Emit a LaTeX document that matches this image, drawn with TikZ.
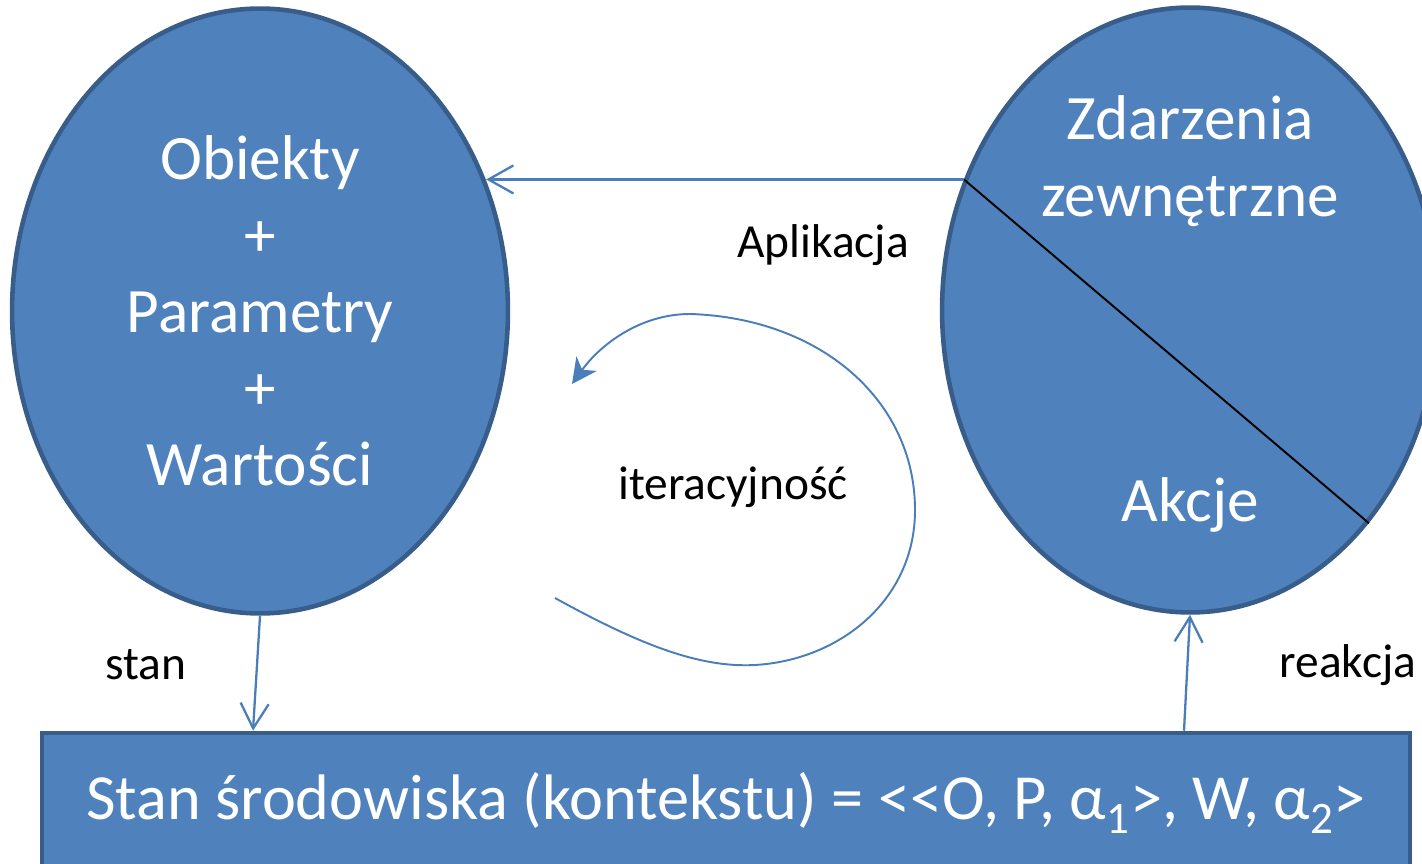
\documentclass[tikz,border=0pt]{standalone}
\usepackage{fontspec}
\setmainfont{Carlito}
\usetikzlibrary{shapes.geometric,arrows.meta}
\definecolor{fillBlue}{HTML}{4F81BD}
\definecolor{edgeBlue}{HTML}{385D8A}
\definecolor{lineBlue}{HTML}{4A7EBB}

\begin{document}
\begin{tikzpicture}
[x=0.02cm,y=-0.02cm,
  ellipseDecorate/.style={shape=ellipse,draw=edgeBlue,fill=fillBlue,line width=2.6pt,%
    minimum width=9.92cm,minimum height=12.1cm,inner sep=0pt,text=white,align=center,%
    font={\fontsize{36}{43.6}\selectfont}},
  boxDecorate/.style={shape=rectangle,draw=edgeBlue,fill=fillBlue,line width=2.6pt,%
    minimum width=27.36cm,minimum height=2.8cm,inner sep=0pt,text=white,%
    font={\fontsize{36.6}{43.6}\selectfont}},
  textDecorate/.style={text=white,align=center,font={\fontsize{36}{43.6}\selectfont}},
  labelDecorate/.style={text=black,font={\fontsize{27}{32}\selectfont}},
  arrowDecorate/.style={draw=lineBlue,line width=1.3pt,-{Straight Barb[length=0.5cm,width=0.56cm]}},
  loopDecorate/.style={draw=lineBlue,line width=1.1pt,-{Stealth[length=0.5cm,width=0.5cm,inset=0.15cm]}}]
\useasboundingbox (0,0) rectangle (1422,864);
\clip (0,0) rectangle (1422,864);
%% main shapes
\node (obiekty) at (260,311) [ellipseDecorate] {Obiekty\\+\\Parametry\\+\\Wartości};
\node (zdarzenia) at (1190,310) [ellipseDecorate] {};
\node (srodowisko) at (726,803) [boxDecorate]
  {Stan środowiska (kontekstu) = <{}<O, P, α\textsubscript{1}>, W, α\textsubscript{2}>};
\node (zdarzeniaText) at (1190,161) [textDecorate] {Zdarzenia\\zewnętrzne};
\node (akcjeText) at (1190,505) [textDecorate] {Akcje};
\draw[black,line width=1.1pt] (zdarzenia.150.2) -- (zdarzenia.-50.5);
%% labels
\foreach \nodename/\x/\y/\txt in {
  stanLabel/146/665/stan, reakcjaLabel/1348/665/reakcja,
  aplikacjaLabel/823/245/Aplikacja, iteracjaLabel/733/487/iteracyjność}
{
  \node (\nodename) at (\x,\y) [labelDecorate] {\txt};
}
%% arrows
\draw[arrowDecorate] (zdarzenia.150.2) -- (zdarzenia.150.2 -| obiekty.30);
\draw[arrowDecorate] (obiekty.south) -- ([xshift=-0.14cm]obiekty.south |- srodowisko.north);
\draw[arrowDecorate] ([xshift=-0.12cm]zdarzenia.south |- srodowisko.north) -- (zdarzenia.south);
\draw[loopDecorate] (555,598) .. controls (640,645) and (700,668) .. (755,665)
  .. controls (840,660) and (915,600) .. (915,510)
  .. controls (915,400) and (820,318) .. (690,314)
  .. controls (640,314) and (600,345) .. (572,384);
\end{tikzpicture}
\end{document}
